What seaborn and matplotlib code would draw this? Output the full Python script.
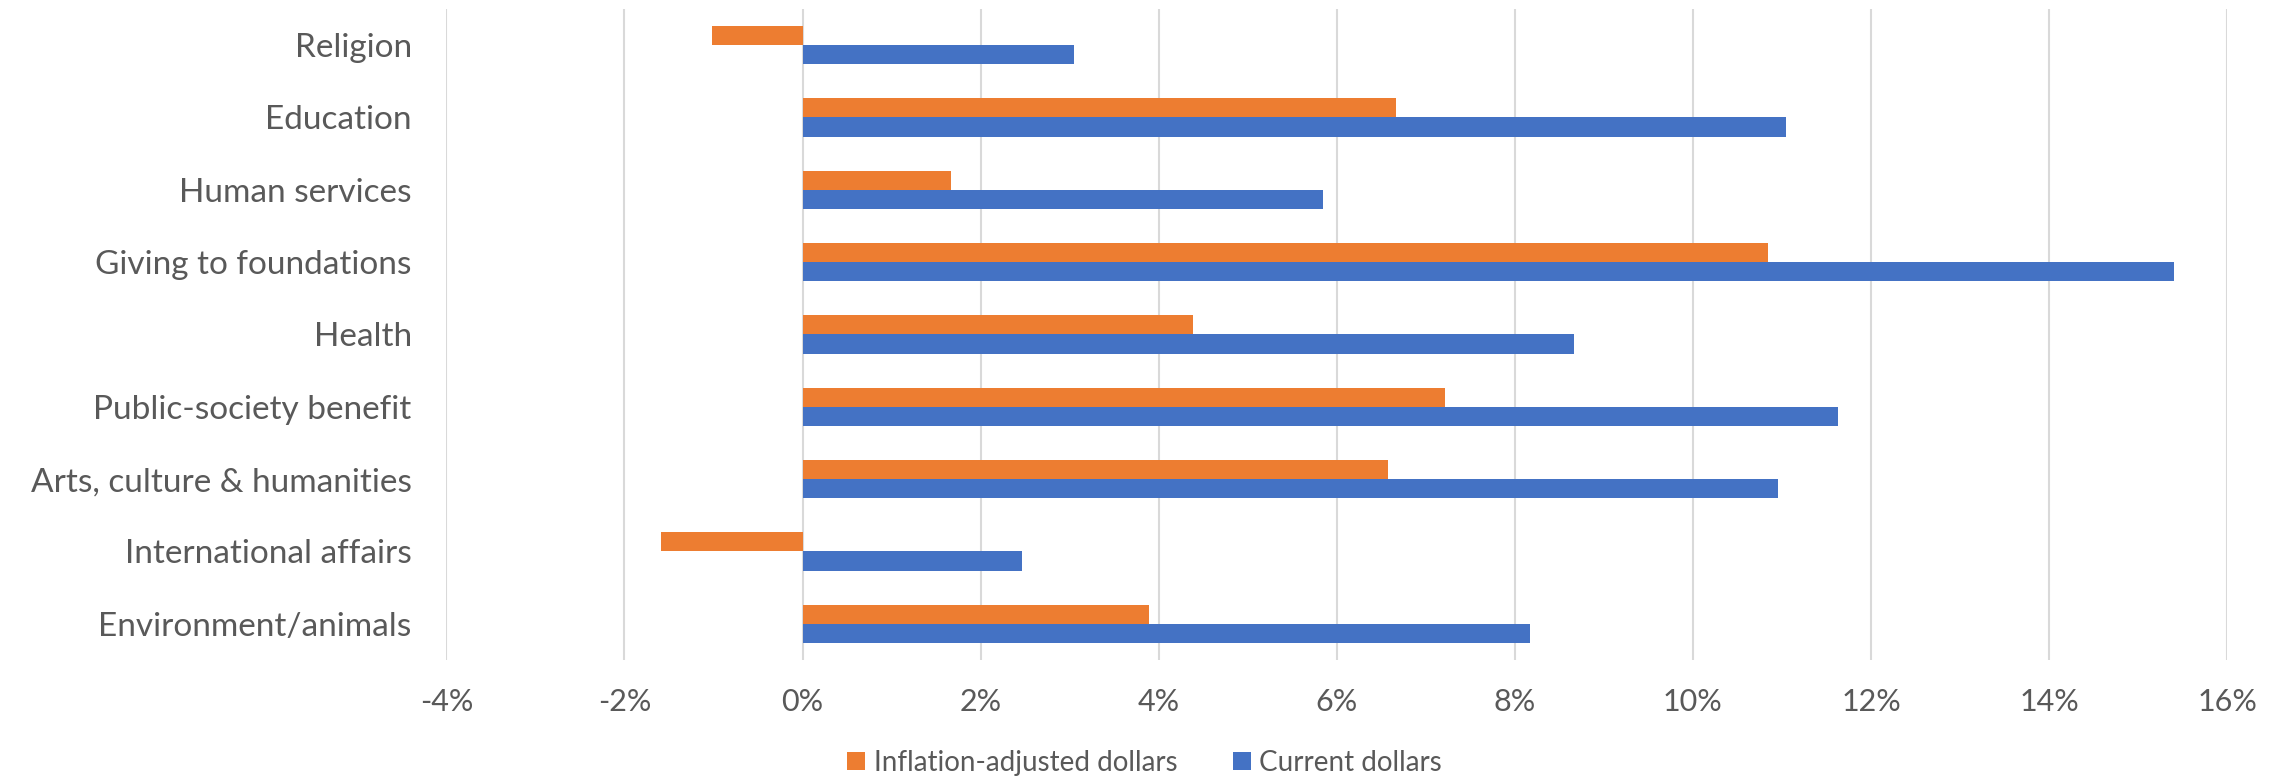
import matplotlib
matplotlib.use("Agg")
import matplotlib.pyplot as plt
from matplotlib import font_manager
from matplotlib.ticker import FuncFormatter, MultipleLocator
import pandas as pd
import seaborn as sns

categories = [
    "Religion",
    "Education",
    "Human services",
    "Giving to foundations",
    "Health",
    "Public-society benefit",
    "Arts, culture & humanities",
    "International affairs",
    "Environment/animals",
]
inflation_adjusted = [-1.02, 6.66, 1.67, 10.84, 4.38, 7.22, 6.57, -1.59, 3.89]
current_dollars = [3.05, 11.05, 5.84, 15.40, 8.66, 11.63, 10.96, 2.46, 8.17]
series_names = ["Inflation-adjusted dollars", "Current dollars"]
x_ticks = [-4, -2, 0, 2, 4, 6, 8, 10, 12, 14, 16]

df = pd.DataFrame({
    "category": categories * 2,
    "value": inflation_adjusted + current_dollars,
    "series": [series_names[0]] * len(categories) + [series_names[1]] * len(categories),
})

sns.set_theme(style="white")
available = {f.name for f in font_manager.fontManager.ttflist}
family = "Liberation Sans Narrow" if "Liberation Sans Narrow" in available else "Lato"
plt.rcParams["font.family"] = [family, "DejaVu Sans"]

text_color = "#595959"
palette = {series_names[0]: "#ED7D31", series_names[1]: "#4472C4"}

fig = plt.figure(figsize=(22.8, 7.76), dpi=100)
ax = fig.add_axes([0.1958, 0.1495, 0.7810, 0.8389])

sns.barplot(
    data=df, y="category", x="value", hue="series", orient="h",
    palette=palette, width=0.53, dodge=True, ax=ax,
    saturation=1, legend=True, linewidth=0,
)

ax.set_xlim(x_ticks[0], x_ticks[-1])
ax.xaxis.set_major_locator(MultipleLocator(2))
ax.xaxis.set_major_formatter(FuncFormatter(lambda v, _: f"{v:.0f}%"))
ax.grid(axis="x", color="#d9d9d9", linewidth=1.5)
ax.set_axisbelow(True)
for s in ax.spines.values():
    s.set_visible(False)
ax.set_xlabel("")
ax.set_ylabel("")
ax.tick_params(axis="y", length=0, pad=25, labelsize=24, labelcolor=text_color)
ax.tick_params(axis="x", length=0, pad=20, labelsize=22, labelcolor=text_color)

handles, labels = ax.get_legend_handles_labels()
ax.get_legend().remove()
fig.legend(
    handles, labels, loc="center", bbox_to_anchor=(0.502, 0.017),
    ncol=2, frameon=False, fontsize=20, labelcolor=text_color,
    handlelength=0.65, handleheight=0.65, handletextpad=0.3,
    columnspacing=2.0,
)

fig.savefig("out.png", dpi=100)
